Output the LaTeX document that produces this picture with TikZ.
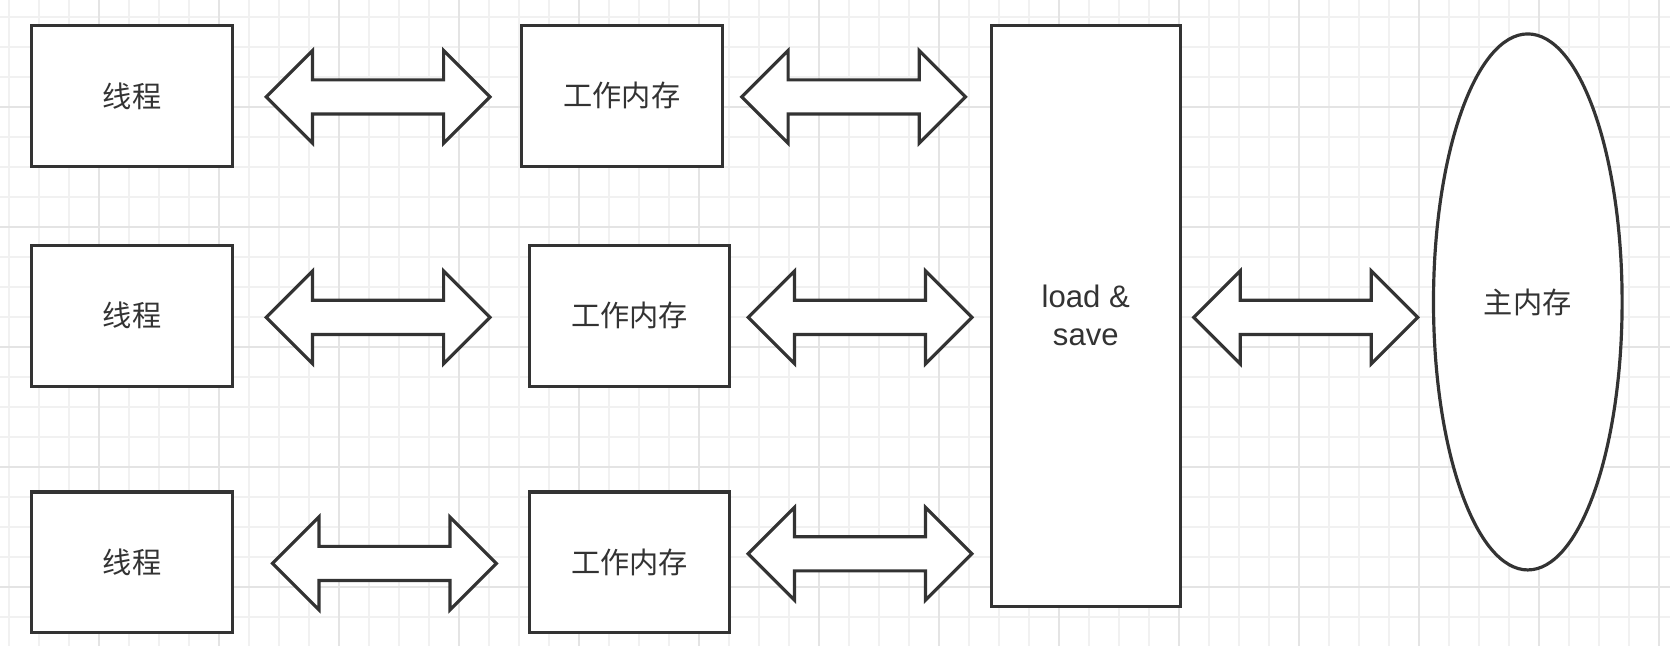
\documentclass[tikz,border=0pt]{standalone}
\usepackage{fontspec}
\setmainfont{Liberation Sans}
\newfontfamily\cjk{Noto Sans CJK SC}
\usetikzlibrary{shapes.arrows,shapes.geometric}

\definecolor{linegray}{HTML}{333333}
\definecolor{gridminor}{HTML}{F1F1F1}
\definecolor{gridmajor}{HTML}{E4E4E4}

\begin{document}
\begin{tikzpicture}[
    x = 0.01cm,
    y = -0.01cm,
    box/.style = {
      draw = linegray,
      fill = white,
      text = linegray,
      line width = 0.85pt,
      rectangle,
      minimum width = 1.88cm,
      minimum height = 1.32cm,
      font = \cjk\fontsize{7.8}{9}\selectfont
    },
    dblarrow/.style = {
      draw = linegray,
      fill = white,
      line width = 0.85pt,
      double arrow,
      double arrow head extend = 0.275cm,
      minimum height = 2.10cm,
      minimum width = 0.84cm,
      inner xsep = 0pt,
      inner ysep = 0.145cm
    }
  ]
  \useasboundingbox (0,0) rectangle (1568,607);
  \fill[white] (0,0) rectangle (1568,607);

  % grid
  \foreach \k in {0,...,55}
    \draw[gridminor, line width=0.6pt] ({8.45+28.17*\k},0) -- ({8.45+28.17*\k},607);
  \foreach \k in {0,...,20}
    \draw[gridminor, line width=0.6pt] (0,{15.65+28.17*\k}) -- (1568,{15.65+28.17*\k});
  \foreach \k in {3,7,...,55}
    \draw[gridmajor, line width=0.6pt] ({8.45+28.17*\k},0) -- ({8.45+28.17*\k},607);
  \foreach \k in {3,7,...,19}
    \draw[gridmajor, line width=0.6pt] (0,{15.65+28.17*\k}) -- (1568,{15.65+28.17*\k});

  % threads
  \node[box] (t1) at (124,90)    {线程};
  \node[box] (t2) at (124,296.5) {线程};
  \node[box] (t3) at (124,528)   {线程};

  % working memory
  \node[box] (w1) at (584,90)    {工作内存};
  \node[box] (w2) at (591,296.5) {工作内存};
  \node[box] (w3) at (591,528)   {工作内存};

  \node[box, minimum width=1.77cm, minimum height=5.45cm, align=center,
        font=\fontsize{8.3}{10.2}\selectfont] (ls) at (1019.5,296.5) {load \&\\save};

  \node[ellipse, draw=linegray, fill=white, text=linegray, line width=0.85pt,
        minimum width=1.77cm, minimum height=5.03cm, inner sep=0pt,
        font=\cjk\fontsize{7.8}{9}\selectfont] (mm) at (1434.5,283.5) {主内存};

  % arrows
  \node[dblarrow] (a1) at (355,91)    {};
  \node[dblarrow] (a2) at (355,298)   {};
  \node[dblarrow] (a3) at (361,529)   {};
  \node[dblarrow] (b1) at (801.5,91)  {};
  \node[dblarrow] (b2) at (807.5,298) {};
  \node[dblarrow] (b3) at (807.5,520) {};
  \node[dblarrow] (c1) at (1226,298)  {};
\end{tikzpicture}
\end{document}
